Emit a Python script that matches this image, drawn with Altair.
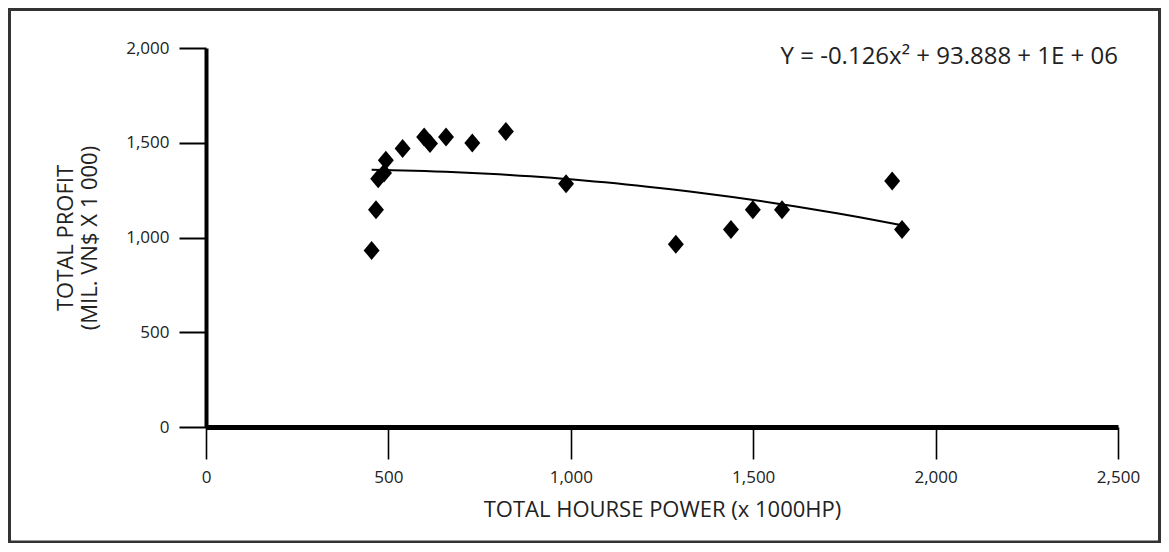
import altair as alt
import pandas as pd

# Data
hp = [454, 466, 472, 488, 493, 539, 598, 614, 658, 730, 822, 987, 1288, 1439, 1499, 1579, 1881, 1908]
profit = [932, 1147, 1310, 1340, 1407, 1469, 1530, 1496, 1530, 1499, 1560, 1284, 964, 1042, 1147, 1147, 1298, 1042]
x_ticks = [0, 500, 1000, 1500, 2000, 2500]
y_ticks = [0, 500, 1000, 1500, 2000]
x_title = "TOTAL HOURSE POWER (x 1000HP)"
y_title = ["TOTAL PROFIT", "(MIL. VN$ X 1 000)"]
equation = ["Y = -0.126x\u00b2 + 93.888 + 1E + 06"]
eq_x = [2500]
eq_y = [1951]

df = pd.DataFrame({"hp": hp, "profit": profit})
eq_df = pd.DataFrame({"t": equation, "x": eq_x, "y": eq_y})

FONT = "Open Sans"
W, H = 912, 379

x_enc = alt.X(
    "hp:Q",
    scale=alt.Scale(domain=[0, 2500], nice=False),
    axis=alt.Axis(
        values=x_ticks, format=",d", title=x_title, grid=False,
        domainColor="black", domainWidth=5, tickColor="black", tickWidth=1.6,
        tickSize=32, labelPadding=10, labelFontSize=17, labelColor="#222",
        labelFont=FONT, titleFont=FONT, titleFontSize=22, titleFontWeight="normal",
        titleColor="#222", titlePadding=14, labelFlush=False,
    ),
)
y_enc = alt.Y(
    "profit:Q",
    scale=alt.Scale(domain=[0, 2000], nice=False),
    axis=alt.Axis(
        values=y_ticks, format=",d", title=y_title, grid=False,
        domainColor="black", domainWidth=4, tickColor="black", tickWidth=2,
        tickSize=27, labelPadding=10, labelFontSize=17, labelColor="#222",
        labelFont=FONT, titleFont=FONT, titleFontSize=22, titleFontWeight="normal",
        titleColor="#222", titlePadding=24, titleLineHeight=24,
    ),
)

frame = alt.Chart(eq_df).mark_rect(
    fill=None, filled=False, stroke="#333", strokeWidth=3
).encode(
    x=alt.value(-196.5), x2=alt.value(953.5), y=alt.value(-38.5), y2=alt.value(494)
)

points = alt.Chart(df).mark_point(
    shape="M0,-1L0.84,0L0,1L-0.84,0Z", filled=True, color="black", opacity=1, size=361
).encode(x=x_enc, y=y_enc)

trend = alt.Chart(df).transform_regression(
    "hp", "profit", method="poly", order=2
).mark_line(color="black", strokeWidth=2).encode(x="hp:Q", y="profit:Q")

text = alt.Chart(eq_df).mark_text(
    align="right", baseline="middle", font=FONT, fontSize=24, color="#222"
).encode(x="x:Q", y="y:Q", text="t:N")

chart = alt.layer(frame, points, trend, text).properties(
    width=W, height=H,
    autosize=alt.AutoSizeParams(type="none"),
    padding={"left": 198, "top": 40, "right": 43, "bottom": 116},
).configure_view(stroke=None)

chart.save("out.html", embed_options={"renderer": "svg", "actions": False})
